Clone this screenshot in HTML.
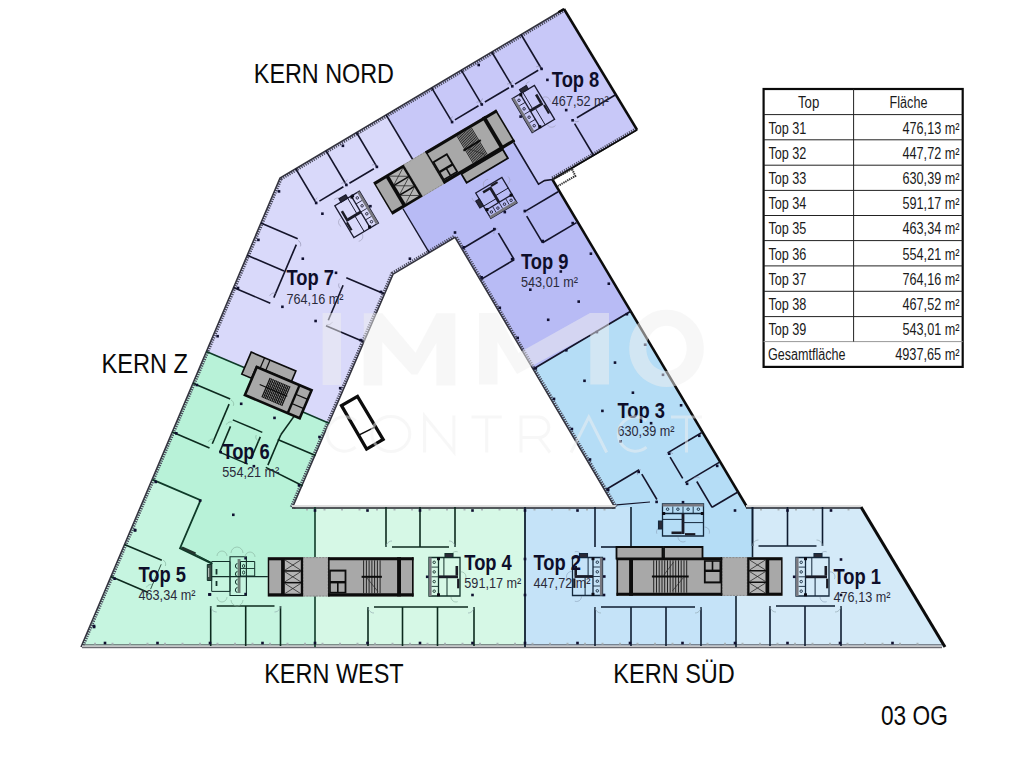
<!DOCTYPE html>
<html><head><meta charset="utf-8"><title>03 OG</title>
<style>
html,body{margin:0;padding:0;background:#fff;}
body{width:1021px;height:765px;overflow:hidden;font-family:"Liberation Sans",sans-serif;}
svg{display:block;font-family:"Liberation Sans",sans-serif;}
</style></head><body>
<svg width="1021" height="765" viewBox="0 0 1021 765">
<rect width="1021" height="765" fill="#ffffff"/>
<polygon points="280.0,178.0 386.1,114.9 416.8,166.4 388.0,183.5 429.2,252.7 393.1,274.2 329.6,423.4 254.6,391.5 261.6,375.0 206.3,351.6" fill="#d9d9fa" stroke="none" stroke-width="0" />
<polygon points="386.1,114.9 564.0,9.0 637.1,129.9 552.4,179.5 538.5,184.2 504.0,126.2 421.9,175.0" fill="#c8c8f8" stroke="none" stroke-width="0" />
<polygon points="393.1,192.1 504.0,126.2 538.5,184.2 552.4,179.5 630.7,311.2 533.3,369.1 455.0,237.4 429.2,252.7" fill="#b8bbf5" stroke="none" stroke-width="0" />
<polygon points="533.3,369.1 630.7,311.2 747.0,507.0 752.5,507.0 752.5,575.0 631.0,575.0 631.0,507.0 615.0,507.5" fill="#b5ddf6" stroke="none" stroke-width="0" />
<polygon points="752.5,507.0 861.0,507.0 945.0,647.0 736.0,647.0 736.0,575.0 752.5,575.0" fill="#d4eaf8" stroke="none" stroke-width="0" />
<polygon points="525.0,507.0 631.0,507.0 631.0,575.0 736.0,575.0 736.0,647.0 525.0,647.0" fill="#c5e3f8" stroke="none" stroke-width="0" />
<polygon points="315.0,507.0 525.0,507.0 525.0,647.0 315.0,647.0" fill="#d6f8e6" stroke="none" stroke-width="0" />
<polygon points="206.3,351.6 261.6,375.0 254.6,391.5 329.6,423.4 292.5,507.5 315.0,507.0 315.0,576.7 290.0,576.7 212.4,576.7 212.4,563.9 180.0,548.2 200.6,500.2 152.5,479.6" fill="#b8f2d8" stroke="none" stroke-width="0" />
<polygon points="81.0,647.0 152.5,479.6 200.6,500.2 180.0,548.2 212.4,563.9 212.4,576.7 290.0,576.7 315.0,576.7 315.0,647.0" fill="#c6f5e0" stroke="none" stroke-width="0" />
<polygon points="393.1,274.2 455.0,237.4 615.0,507.5 292.5,507.5" fill="#ffffff" stroke="none" stroke-width="0" />
<clipPath id="bclip"><path d="M81.0 647.0 L280.0 178.0 L564.0 9.0 L637.1 129.9 L552.4 179.5 L747.0 507.0 L861.0 507.0 L945.0 647.0Z M393.1 274.2 L455.0 237.4 L615.0 507.5 L292.5 507.5Z" clip-rule="evenodd"/></clipPath>
<path d="M81.0 647.0 L280.0 178.0 L564.0 9.0" fill="none" stroke="#4a4a5c" stroke-width="5.8" stroke-dasharray="1.25 1.1" clip-path="url(#bclip)"/>
<path d="M81.0 647.0 L280.0 178.0 L564.0 9.0" fill="none" stroke="#34343f" stroke-width="1.5" stroke-linejoin="miter"/>
<path d="M637.1 129.9 L552.4 179.5" fill="none" stroke="#4a4a5c" stroke-width="5.8" stroke-dasharray="1.25 1.1" clip-path="url(#bclip)"/>
<path d="M637.1 129.9 L552.4 179.5" fill="none" stroke="#34343f" stroke-width="1.5" stroke-linejoin="miter"/>
<path d="M292.5 507.5 L393.1 274.2 L455.0 237.4 L615.0 507.5" fill="none" stroke="#4a4a5c" stroke-width="5.8" stroke-dasharray="1.25 1.1" clip-path="url(#bclip)"/>
<path d="M292.5 507.5 L393.1 274.2 L455.0 237.4 L615.0 507.5" fill="none" stroke="#34343f" stroke-width="1.5" stroke-linejoin="miter"/>
<polyline points="564.0,9.0 637.1,129.9" fill="none" stroke="#0c0c0c" stroke-width="2.6" />
<polyline points="637.1,129.9 552.4,179.5" fill="none" stroke="#0c0c0c" stroke-width="1.6" />
<polyline points="552.4,179.5 747.0,507.0" fill="none" stroke="#0c0c0c" stroke-width="2.5" />
<polyline points="861.0,507.0 945.0,647.0" fill="none" stroke="#0c0c0c" stroke-width="3.0" />
<polyline points="558.4,12.3 564.0,9.0" fill="none" stroke="#0c0c0c" stroke-width="2.2" />
<rect x="292.0" y="505.1" width="323.5" height="2.2" fill="#dcdcdc"/>
<line x1="292.0" y1="508.0" x2="615.5" y2="508.0" stroke="#24242c" stroke-width="1.3"/>
<line x1="306.0" y1="509.7" x2="615.5" y2="509.7" stroke="#aab4b8" stroke-width="1.6" stroke-dasharray="2 15.5"/>
<rect x="746.0" y="505.1" width="115.0" height="2.2" fill="#dcdcdc"/>
<line x1="746.0" y1="508.0" x2="861.0" y2="508.0" stroke="#24242c" stroke-width="1.3"/>
<line x1="760.0" y1="509.7" x2="861.0" y2="509.7" stroke="#aab4b8" stroke-width="1.6" stroke-dasharray="2 15.5"/>
<line x1="82.0" y1="644.9" x2="942.0" y2="644.9" stroke="#33333c" stroke-width="0.9"/>
<rect x="82.0" y="645.4" width="860.0" height="1.9" fill="#c6c6c8"/>
<line x1="82.0" y1="647.7" x2="942.0" y2="647.7" stroke="#4c4c54" stroke-width="1.0"/>
<line x1="94.0" y1="643.6" x2="934.0" y2="643.6" stroke="#aab4b8" stroke-width="1.6" stroke-dasharray="2 15.5"/>
<polyline points="553.0,179.5 572.0,169.0 575.3,176.0 558.0,186.0" fill="none" stroke="#333" stroke-width="2.0" stroke-dasharray="1.4 0.8"/>
<polyline points="386.1,114.9 412.7,159.5" fill="none" stroke="#15152a" stroke-width="1.6" />
<polyline points="402.8,208.5 429.2,252.7" fill="none" stroke="#15152a" stroke-width="1.4" />
<polyline points="513.7,142.5 538.5,184.2 544.5,180.6 552.4,179.5" fill="none" stroke="#15152a" stroke-width="1.6" />
<polyline points="533.3,369.1 630.7,311.2" fill="none" stroke="#15152a" stroke-width="1.8" />
<polyline points="206.3,351.6 244.1,367.6" fill="none" stroke="#0e3a28" stroke-width="1.6" />
<polyline points="302.4,411.8 329.6,423.4" fill="none" stroke="#0e3a28" stroke-width="1.6" />
<polyline points="152.5,479.6 200.6,500.2 180.0,548.2 212.4,563.9" fill="none" stroke="#0e3a28" stroke-width="1.8" />
<polyline points="181.0,547.0 211.5,562.5" fill="none" stroke="#0e3a28" stroke-width="1.0" />
<polygon points="182.5,546.5 196.0,552.5 195.0,555.0 181.5,549.0" fill="#22352e" stroke="none" stroke-width="0" />
<polyline points="315.0,507.0 315.0,557.5" fill="none" stroke="#0e3a28" stroke-width="1.6" />
<polyline points="315.0,596.0 315.0,647.0" fill="none" stroke="#0e3a28" stroke-width="1.6" />
<polyline points="525.0,507.0 525.0,647.0" fill="none" stroke="#102030" stroke-width="1.8" />
<polyline points="631.0,507.0 631.0,547.0" fill="none" stroke="#102030" stroke-width="1.6" />
<polyline points="752.5,507.0 752.5,557.5" fill="none" stroke="#102030" stroke-width="1.6" />
<polyline points="736.0,596.0 736.0,647.0" fill="none" stroke="#102030" stroke-width="1.6" />
<polyline points="295.7,168.6 316.2,203.0" fill="none" stroke="#14142a" stroke-width="1.6" />
<polyline points="326.0,150.6 346.4,185.0" fill="none" stroke="#14142a" stroke-width="1.6" />
<polyline points="356.5,132.5 376.9,166.9" fill="none" stroke="#14142a" stroke-width="1.6" />
<polyline points="319.4,201.1 343.4,186.8" fill="none" stroke="#14142a" stroke-width="1.6" />
<polyline points="349.4,183.2 373.9,168.7" fill="none" stroke="#14142a" stroke-width="1.6" />
<polyline points="315.9,203.2 315.5,202.2 315.4,201.2 315.5,200.1 315.9,199.2 316.5,198.3 317.3,197.7" fill="none" stroke="#8a8aa8" stroke-width="0.6" />
<polyline points="341.4,183.4 342.3,183.0 343.4,182.8 344.4,182.9 345.4,183.3 346.2,183.9 346.9,184.8" fill="none" stroke="#8a8aa8" stroke-width="0.6" />
<polyline points="346.0,185.3 345.6,184.3 345.4,183.3 345.6,182.2 345.9,181.3 346.6,180.4 347.4,179.8" fill="none" stroke="#8a8aa8" stroke-width="0.6" />
<polyline points="371.9,165.2 372.8,164.8 373.9,164.7 374.9,164.8 375.9,165.2 376.7,165.8 377.4,166.6" fill="none" stroke="#8a8aa8" stroke-width="0.6" />
<polyline points="431.7,87.8 451.9,121.7" fill="none" stroke="#14142a" stroke-width="1.6" />
<polyline points="461.3,70.1 481.5,104.1" fill="none" stroke="#14142a" stroke-width="1.6" />
<polyline points="491.8,52.0 512.0,85.9" fill="none" stroke="#14142a" stroke-width="1.6" />
<polyline points="521.1,34.5 541.3,68.5" fill="none" stroke="#14142a" stroke-width="1.6" />
<polyline points="454.9,119.9 478.5,105.8" fill="none" stroke="#14142a" stroke-width="1.6" />
<polyline points="484.9,102.0 509.0,87.7" fill="none" stroke="#14142a" stroke-width="1.6" />
<polyline points="515.0,84.1 538.2,70.3" fill="none" stroke="#14142a" stroke-width="1.6" />
<polyline points="451.4,122.0 451.0,121.0 450.9,120.0 451.0,118.9 451.4,118.0 452.0,117.1 452.8,116.5" fill="none" stroke="#8a8aa8" stroke-width="0.6" />
<polyline points="481.5,104.1 481.1,103.1 480.9,102.1 481.1,101.0 481.5,100.1 482.1,99.2 482.9,98.6" fill="none" stroke="#8a8aa8" stroke-width="0.6" />
<polyline points="511.6,86.2 511.2,85.2 511.0,84.2 511.1,83.1 511.5,82.2 512.2,81.3 513.0,80.7" fill="none" stroke="#8a8aa8" stroke-width="0.6" />
<polyline points="476.5,102.4 477.4,102.0 478.4,101.8 479.5,102.0 480.5,102.4 481.3,103.0 481.9,103.8" fill="none" stroke="#8a8aa8" stroke-width="0.6" />
<polyline points="507.0,84.3 507.9,83.8 509.0,83.7 510.0,83.8 511.0,84.2 511.8,84.8 512.4,85.7" fill="none" stroke="#8a8aa8" stroke-width="0.6" />
<polyline points="536.2,66.9 537.1,66.5 538.2,66.3 539.2,66.4 540.2,66.8 541.0,67.4 541.7,68.3" fill="none" stroke="#8a8aa8" stroke-width="0.6" />
<polyline points="574.6,123.7 593.6,155.5" fill="none" stroke="#14142a" stroke-width="1.6" />
<polyline points="576.9,117.7 615.6,94.7" fill="none" stroke="#14142a" stroke-width="1.6" />
<polyline points="578.9,121.1 578.0,121.5 576.9,121.7 575.9,121.6 574.9,121.2 574.1,120.6 573.5,119.7" fill="none" stroke="#8a8aa8" stroke-width="0.6" />
<polyline points="462.7,248.5 495.8,228.8" fill="none" stroke="#14142a" stroke-width="1.6" />
<polyline points="498.4,233.1 514.2,259.7" fill="none" stroke="#14142a" stroke-width="1.6" />
<polyline points="481.1,279.4 514.2,259.7" fill="none" stroke="#14142a" stroke-width="1.6" />
<polyline points="524.2,211.9 558.1,191.7" fill="none" stroke="#14142a" stroke-width="1.6" />
<polyline points="526.7,216.2 542.6,242.8" fill="none" stroke="#14142a" stroke-width="1.6" />
<polyline points="542.6,242.8 576.5,222.6" fill="none" stroke="#14142a" stroke-width="1.6" />
<polyline points="493.9,233.9 493.9,232.7 494.1,231.6 494.6,230.5 495.4,229.7 496.4,229.0 497.5,228.7" fill="none" stroke="#8a8aa8" stroke-width="0.6" />
<polyline points="523.2,213.4 524.1,212.6 525.1,212.0 526.3,211.7 527.4,211.8 528.6,212.1 529.6,212.7" fill="none" stroke="#8a8aa8" stroke-width="0.6" />
<polyline points="606.1,489.5 639.2,469.8" fill="none" stroke="#14142a" stroke-width="1.6" />
<polyline points="641.8,474.1 656.9,499.5" fill="none" stroke="#14142a" stroke-width="1.6" />
<polyline points="667.6,452.9 701.5,432.7" fill="none" stroke="#14142a" stroke-width="1.6" />
<polyline points="670.1,457.2 682.7,478.3" fill="none" stroke="#14142a" stroke-width="1.6" />
<polyline points="685.2,482.6 719.2,462.4" fill="none" stroke="#14142a" stroke-width="1.6" />
<polyline points="637.4,474.9 637.3,473.8 637.5,472.6 638.1,471.6 638.8,470.7 639.8,470.1 640.9,469.7" fill="none" stroke="#8a8aa8" stroke-width="0.6" />
<polyline points="666.6,454.4 667.5,453.6 668.5,453.0 669.7,452.8 670.9,452.8 672.0,453.1 673.0,453.8" fill="none" stroke="#8a8aa8" stroke-width="0.6" />
<polyline points="696.8,481.5 712.1,507.3" fill="none" stroke="#14142a" stroke-width="1.6" />
<polyline points="712.1,507.3 737.9,492.0" fill="none" stroke="#14142a" stroke-width="1.6" />
<polyline points="693.3,478.7 694.2,477.9 695.2,477.3 696.3,477.0 697.5,477.1 698.6,477.4 699.6,478.0" fill="none" stroke="#8a8aa8" stroke-width="0.6" />
<polyline points="616.5,504.8 650.0,502.0" fill="none" stroke="#14142a" stroke-width="1.2" />
<polyline points="260.9,223.1 297.7,238.7" fill="none" stroke="#14142a" stroke-width="1.6" />
<polyline points="247.2,255.3 284.0,270.9" fill="none" stroke="#14142a" stroke-width="1.6" />
<polyline points="233.5,287.5 270.3,303.2" fill="none" stroke="#14142a" stroke-width="1.6" />
<polyline points="296.3,244.6 273.8,297.6" fill="none" stroke="#14142a" stroke-width="1.6" />
<polyline points="300.4,246.4 300.7,245.3 300.7,244.1 300.4,243.0 299.9,241.9 299.0,241.1 298.0,240.5" fill="none" stroke="#8a8aa8" stroke-width="0.6" />
<polyline points="275.6,293.4 274.4,293.1 273.2,293.1 272.1,293.4 271.1,294.0 270.3,294.8 269.7,295.8" fill="none" stroke="#8a8aa8" stroke-width="0.6" />
<polyline points="346.3,277.8 384.0,293.8" fill="none" stroke="#14142a" stroke-width="1.6" />
<polyline points="343.1,285.2 328.3,320.2" fill="none" stroke="#14142a" stroke-width="1.6" />
<polyline points="326.0,325.7 363.7,341.7" fill="none" stroke="#14142a" stroke-width="1.6" />
<polyline points="339.0,283.4 338.7,284.6 338.7,285.7 339.0,286.9 339.6,287.9 340.4,288.7 341.4,289.3" fill="none" stroke="#8a8aa8" stroke-width="0.6" />
<polyline points="326.5,324.3 327.7,324.6 328.9,324.6 330.0,324.3 331.0,323.7 331.8,322.9 332.4,321.9" fill="none" stroke="#8a8aa8" stroke-width="0.6" />
<polyline points="192.9,383.3 230.2,399.1" fill="none" stroke="#0c2a1e" stroke-width="1.6" />
<polyline points="172.2,432.1 209.5,447.9" fill="none" stroke="#0c2a1e" stroke-width="1.6" />
<polyline points="229.1,404.1 212.3,443.7" fill="none" stroke="#0c2a1e" stroke-width="1.6" />
<polyline points="233.3,405.8 233.6,404.7 233.6,403.5 233.3,402.4 232.7,401.4 231.9,400.5 230.9,399.9" fill="none" stroke="#7aa892" stroke-width="0.6" />
<polyline points="214.1,439.5 213.0,439.2 211.8,439.2 210.7,439.5 209.6,440.1 208.8,440.9 208.2,441.9" fill="none" stroke="#7aa892" stroke-width="0.6" />
<polyline points="232.8,419.8 262.3,432.3" fill="none" stroke="#0c2a1e" stroke-width="1.4" />
<polyline points="230.5,426.4 219.6,452.2" fill="none" stroke="#0c2a1e" stroke-width="1.6" />
<polyline points="219.6,452.2 247.7,464.1" fill="none" stroke="#0c2a1e" stroke-width="1.4" />
<polyline points="260.3,436.9 250.9,459.0" fill="none" stroke="#0c2a1e" stroke-width="1.6" />
<polyline points="232.3,422.3 231.2,421.9 230.0,421.9 228.9,422.2 227.8,422.8 227.0,423.6 226.4,424.6" fill="none" stroke="#7aa892" stroke-width="0.6" />
<polyline points="256.2,435.1 255.9,436.2 255.8,437.4 256.1,438.5 256.7,439.6 257.5,440.4 258.6,441.0" fill="none" stroke="#7aa892" stroke-width="0.6" />
<polyline points="294.0,416.4 280.8,434.7" fill="none" stroke="#0c2a1e" stroke-width="1.6" />
<polyline points="280.8,434.7 267.9,465.1" fill="none" stroke="#0c2a1e" stroke-width="1.6" />
<polyline points="277.7,439.4 315.5,455.4" fill="none" stroke="#0c2a1e" stroke-width="1.6" />
<polyline points="265.8,467.4 302.6,485.8" fill="none" stroke="#0c2a1e" stroke-width="1.6" />
<polyline points="124.5,544.4 161.8,560.2" fill="none" stroke="#0c2a1e" stroke-width="1.6" />
<polyline points="110.9,576.6 148.2,592.4" fill="none" stroke="#0c2a1e" stroke-width="1.6" />
<polyline points="161.2,564.3 150.6,589.1" fill="none" stroke="#0c2a1e" stroke-width="0.8" />
<polyline points="165.3,566.0 165.6,564.9 165.6,563.7 165.4,562.6 164.8,561.5 163.9,560.7 162.9,560.1" fill="none" stroke="#7aa892" stroke-width="0.6" />
<polyline points="152.4,585.0 151.3,584.6 150.1,584.6 148.9,584.9 147.9,585.5 147.1,586.3 146.5,587.3" fill="none" stroke="#7aa892" stroke-width="0.6" />
<polyline points="210.7,646.0 210.7,606.0" fill="none" stroke="#0c2a1e" stroke-width="1.6" />
<polyline points="245.7,646.0 245.7,606.0" fill="none" stroke="#0c2a1e" stroke-width="1.6" />
<polyline points="280.5,646.0 280.5,606.0" fill="none" stroke="#0c2a1e" stroke-width="1.6" />
<polyline points="216.7,606.0 274.5,606.0" fill="none" stroke="#0c2a1e" stroke-width="1.6" />
<polyline points="210.7,606.0 210.9,607.6 211.5,609.0 212.5,610.2 213.7,611.2 215.1,611.8 216.7,612.0" fill="none" stroke="#8aa0a8" stroke-width="0.6" />
<polyline points="280.5,606.0 280.3,607.6 279.7,609.0 278.7,610.2 277.5,611.2 276.1,611.8 274.5,612.0" fill="none" stroke="#8aa0a8" stroke-width="0.6" />
<polyline points="386.0,507.0 386.0,547.0" fill="none" stroke="#0c2a1e" stroke-width="1.6" />
<polyline points="420.0,507.0 420.0,547.0" fill="none" stroke="#0c2a1e" stroke-width="1.6" />
<polyline points="455.0,507.0 455.0,547.0" fill="none" stroke="#0c2a1e" stroke-width="1.6" />
<polyline points="392.0,547.0 449.0,547.0" fill="none" stroke="#0c2a1e" stroke-width="1.6" />
<polyline points="386.0,547.0 386.2,545.4 386.8,544.0 387.8,542.8 389.0,541.8 390.4,541.2 392.0,541.0" fill="none" stroke="#8aa0a8" stroke-width="0.6" />
<polyline points="455.0,547.0 454.8,545.4 454.2,544.0 453.2,542.8 452.0,541.8 450.6,541.2 449.0,541.0" fill="none" stroke="#8aa0a8" stroke-width="0.6" />
<polyline points="368.0,646.0 368.0,607.0" fill="none" stroke="#0c2a1e" stroke-width="1.6" />
<polyline points="402.5,646.0 402.5,607.0" fill="none" stroke="#0c2a1e" stroke-width="1.6" />
<polyline points="437.5,646.0 437.5,607.0" fill="none" stroke="#0c2a1e" stroke-width="1.6" />
<polyline points="474.0,646.0 474.0,607.0" fill="none" stroke="#0c2a1e" stroke-width="1.6" />
<polyline points="374.0,607.0 468.0,607.0" fill="none" stroke="#0c2a1e" stroke-width="1.6" />
<polyline points="368.0,607.0 368.2,608.6 368.8,610.0 369.8,611.2 371.0,612.2 372.4,612.8 374.0,613.0" fill="none" stroke="#8aa0a8" stroke-width="0.6" />
<polyline points="474.0,607.0 473.8,608.6 473.2,610.0 472.2,611.2 471.0,612.2 469.6,612.8 468.0,613.0" fill="none" stroke="#8aa0a8" stroke-width="0.6" />
<polyline points="595.0,507.0 595.0,547.0" fill="none" stroke="#0e1c30" stroke-width="1.6" />
<polyline points="601.0,547.0 616.0,547.0" fill="none" stroke="#0e1c30" stroke-width="1.6" />
<polyline points="595.0,646.0 595.0,607.0" fill="none" stroke="#0e1c30" stroke-width="1.6" />
<polyline points="631.0,646.0 631.0,607.0" fill="none" stroke="#0e1c30" stroke-width="1.6" />
<polyline points="666.0,646.0 666.0,607.0" fill="none" stroke="#0e1c30" stroke-width="1.6" />
<polyline points="701.0,646.0 701.0,607.0" fill="none" stroke="#0e1c30" stroke-width="1.6" />
<polyline points="601.0,607.0 695.0,607.0" fill="none" stroke="#0e1c30" stroke-width="1.6" />
<polyline points="595.0,607.0 595.2,608.6 595.8,610.0 596.8,611.2 598.0,612.2 599.4,612.8 601.0,613.0" fill="none" stroke="#8aa0a8" stroke-width="0.6" />
<polyline points="701.0,607.0 700.8,608.6 700.2,610.0 699.2,611.2 698.0,612.2 696.6,612.8 695.0,613.0" fill="none" stroke="#8aa0a8" stroke-width="0.6" />
<polyline points="752.5,507.0 752.5,546.0" fill="none" stroke="#0e1c30" stroke-width="1.6" />
<polyline points="787.5,507.0 787.5,546.0" fill="none" stroke="#0e1c30" stroke-width="1.6" />
<polyline points="822.5,507.0 822.5,546.0" fill="none" stroke="#0e1c30" stroke-width="1.6" />
<polyline points="758.5,546.0 816.5,546.0" fill="none" stroke="#0e1c30" stroke-width="1.6" />
<polyline points="752.5,546.0 752.7,544.4 753.3,543.0 754.3,541.8 755.5,540.8 756.9,540.2 758.5,540.0" fill="none" stroke="#8aa0a8" stroke-width="0.6" />
<polyline points="822.5,546.0 822.3,544.4 821.7,543.0 820.7,541.8 819.5,540.8 818.1,540.2 816.5,540.0" fill="none" stroke="#8aa0a8" stroke-width="0.6" />
<polyline points="770.0,646.0 770.0,606.0" fill="none" stroke="#0e1c30" stroke-width="1.6" />
<polyline points="805.0,646.0 805.0,606.0" fill="none" stroke="#0e1c30" stroke-width="1.6" />
<polyline points="841.0,646.0 841.0,606.0" fill="none" stroke="#0e1c30" stroke-width="1.6" />
<polyline points="776.0,606.0 835.0,606.0" fill="none" stroke="#0e1c30" stroke-width="1.6" />
<polyline points="770.0,606.0 770.2,607.6 770.8,609.0 771.8,610.2 773.0,611.2 774.4,611.8 776.0,612.0" fill="none" stroke="#8aa0a8" stroke-width="0.6" />
<polyline points="841.0,606.0 840.8,607.6 840.2,609.0 839.2,610.2 838.0,611.2 836.6,611.8 835.0,612.0" fill="none" stroke="#8aa0a8" stroke-width="0.6" />
<rect x="462.4" y="246.0" width="2.6" height="2.6" fill="#101030"/>
<rect x="493.0" y="227.8" width="2.6" height="2.6" fill="#101030"/>
<rect x="523.5" y="209.7" width="2.6" height="2.6" fill="#101030"/>
<rect x="480.3" y="276.0" width="2.6" height="2.6" fill="#101030"/>
<rect x="510.8" y="257.9" width="2.6" height="2.6" fill="#101030"/>
<rect x="541.4" y="239.7" width="2.6" height="2.6" fill="#101030"/>
<rect x="571.4" y="221.8" width="2.6" height="2.6" fill="#101030"/>
<rect x="498.5" y="306.5" width="2.6" height="2.6" fill="#101030"/>
<rect x="529.0" y="288.4" width="2.6" height="2.6" fill="#101030"/>
<rect x="559.5" y="270.2" width="2.6" height="2.6" fill="#101030"/>
<rect x="589.6" y="252.4" width="2.6" height="2.6" fill="#101030"/>
<rect x="516.4" y="336.6" width="2.6" height="2.6" fill="#101030"/>
<rect x="546.9" y="318.5" width="2.6" height="2.6" fill="#101030"/>
<rect x="577.4" y="300.3" width="2.6" height="2.6" fill="#101030"/>
<rect x="607.5" y="282.4" width="2.6" height="2.6" fill="#101030"/>
<rect x="534.5" y="367.1" width="2.6" height="2.6" fill="#101030"/>
<rect x="565.0" y="349.0" width="2.6" height="2.6" fill="#101030"/>
<rect x="595.6" y="330.8" width="2.6" height="2.6" fill="#101030"/>
<rect x="625.6" y="312.9" width="2.6" height="2.6" fill="#101030"/>
<rect x="552.7" y="397.6" width="2.6" height="2.6" fill="#101030"/>
<rect x="583.2" y="379.5" width="2.6" height="2.6" fill="#101030"/>
<rect x="613.7" y="361.3" width="2.6" height="2.6" fill="#101030"/>
<rect x="643.8" y="343.4" width="2.6" height="2.6" fill="#101030"/>
<rect x="570.6" y="427.7" width="2.6" height="2.6" fill="#101030"/>
<rect x="601.1" y="409.6" width="2.6" height="2.6" fill="#101030"/>
<rect x="631.6" y="391.4" width="2.6" height="2.6" fill="#101030"/>
<rect x="661.7" y="373.5" width="2.6" height="2.6" fill="#101030"/>
<rect x="588.7" y="458.2" width="2.6" height="2.6" fill="#101030"/>
<rect x="619.2" y="440.1" width="2.6" height="2.6" fill="#101030"/>
<rect x="649.8" y="421.9" width="2.6" height="2.6" fill="#101030"/>
<rect x="679.8" y="404.0" width="2.6" height="2.6" fill="#101030"/>
<rect x="606.9" y="488.7" width="2.6" height="2.6" fill="#101030"/>
<rect x="637.4" y="470.6" width="2.6" height="2.6" fill="#101030"/>
<rect x="667.9" y="452.4" width="2.6" height="2.6" fill="#101030"/>
<rect x="698.0" y="434.5" width="2.6" height="2.6" fill="#101030"/>
<rect x="655.3" y="500.6" width="2.6" height="2.6" fill="#101030"/>
<rect x="685.8" y="482.5" width="2.6" height="2.6" fill="#101030"/>
<rect x="715.9" y="464.6" width="2.6" height="2.6" fill="#101030"/>
<rect x="341.6" y="144.5" width="2.6" height="2.6" fill="#101030"/>
<rect x="477.4" y="63.7" width="2.6" height="2.6" fill="#101030"/>
<rect x="314.9" y="201.7" width="2.6" height="2.6" fill="#101030"/>
<rect x="345.1" y="183.7" width="2.6" height="2.6" fill="#101030"/>
<rect x="375.6" y="165.6" width="2.6" height="2.6" fill="#101030"/>
<rect x="450.8" y="120.8" width="2.6" height="2.6" fill="#101030"/>
<rect x="480.5" y="103.2" width="2.6" height="2.6" fill="#101030"/>
<rect x="511.0" y="85.0" width="2.6" height="2.6" fill="#101030"/>
<rect x="540.3" y="67.6" width="2.6" height="2.6" fill="#101030"/>
<rect x="321.1" y="212.4" width="2.6" height="2.6" fill="#101030"/>
<rect x="351.5" y="194.4" width="2.6" height="2.6" fill="#101030"/>
<rect x="546.1" y="78.6" width="2.6" height="2.6" fill="#101030"/>
<rect x="571.3" y="119.0" width="2.6" height="2.6" fill="#101030"/>
<rect x="564.9" y="108.8" width="2.6" height="2.6" fill="#101030"/>
<rect x="453.7" y="231.2" width="2.6" height="2.6" fill="#101030"/>
<rect x="408.6" y="257.4" width="2.6" height="2.6" fill="#101030"/>
<rect x="277.7" y="190.1" width="2.6" height="2.6" fill="#101030"/>
<rect x="257.1" y="238.6" width="2.6" height="2.6" fill="#101030"/>
<rect x="236.7" y="286.7" width="2.6" height="2.6" fill="#101030"/>
<rect x="216.3" y="334.9" width="2.6" height="2.6" fill="#101030"/>
<rect x="195.6" y="383.7" width="2.6" height="2.6" fill="#101030"/>
<rect x="175.0" y="432.0" width="2.6" height="2.6" fill="#101030"/>
<rect x="154.4" y="480.6" width="2.6" height="2.6" fill="#101030"/>
<rect x="133.8" y="529.1" width="2.6" height="2.6" fill="#101030"/>
<rect x="113.3" y="577.4" width="2.6" height="2.6" fill="#101030"/>
<rect x="92.8" y="625.7" width="2.6" height="2.6" fill="#101030"/>
<rect x="301.5" y="257.4" width="2.6" height="2.6" fill="#101030"/>
<rect x="281.1" y="305.5" width="2.6" height="2.6" fill="#101030"/>
<rect x="239.9" y="402.5" width="2.6" height="2.6" fill="#101030"/>
<rect x="219.4" y="450.8" width="2.6" height="2.6" fill="#101030"/>
<rect x="198.8" y="499.4" width="2.6" height="2.6" fill="#101030"/>
<rect x="334.7" y="271.5" width="2.6" height="2.6" fill="#101030"/>
<rect x="314.3" y="319.7" width="2.6" height="2.6" fill="#101030"/>
<rect x="273.2" y="416.6" width="2.6" height="2.6" fill="#101030"/>
<rect x="252.6" y="464.9" width="2.6" height="2.6" fill="#101030"/>
<rect x="232.0" y="513.5" width="2.6" height="2.6" fill="#101030"/>
<rect x="379.7" y="290.6" width="2.6" height="2.6" fill="#101030"/>
<rect x="359.3" y="338.8" width="2.6" height="2.6" fill="#101030"/>
<rect x="338.9" y="386.9" width="2.6" height="2.6" fill="#101030"/>
<rect x="318.2" y="435.7" width="2.6" height="2.6" fill="#101030"/>
<rect x="297.7" y="484.0" width="2.6" height="2.6" fill="#101030"/>
<rect x="103.7" y="641.7" width="2.6" height="2.6" fill="#101030"/>
<rect x="156.2" y="641.7" width="2.6" height="2.6" fill="#101030"/>
<rect x="208.7" y="641.7" width="2.6" height="2.6" fill="#101030"/>
<rect x="261.2" y="641.7" width="2.6" height="2.6" fill="#101030"/>
<rect x="313.7" y="641.7" width="2.6" height="2.6" fill="#101030"/>
<rect x="366.2" y="641.7" width="2.6" height="2.6" fill="#101030"/>
<rect x="418.7" y="641.7" width="2.6" height="2.6" fill="#101030"/>
<rect x="471.2" y="641.7" width="2.6" height="2.6" fill="#101030"/>
<rect x="523.7" y="641.7" width="2.6" height="2.6" fill="#101030"/>
<rect x="576.2" y="641.7" width="2.6" height="2.6" fill="#101030"/>
<rect x="628.7" y="641.7" width="2.6" height="2.6" fill="#101030"/>
<rect x="681.2" y="641.7" width="2.6" height="2.6" fill="#101030"/>
<rect x="733.7" y="641.7" width="2.6" height="2.6" fill="#101030"/>
<rect x="786.2" y="641.7" width="2.6" height="2.6" fill="#101030"/>
<rect x="838.7" y="641.7" width="2.6" height="2.6" fill="#101030"/>
<rect x="891.2" y="641.7" width="2.6" height="2.6" fill="#101030"/>
<rect x="313.7" y="509.2" width="2.6" height="2.6" fill="#101030"/>
<rect x="366.2" y="509.2" width="2.6" height="2.6" fill="#101030"/>
<rect x="418.7" y="509.2" width="2.6" height="2.6" fill="#101030"/>
<rect x="471.2" y="509.2" width="2.6" height="2.6" fill="#101030"/>
<rect x="523.7" y="509.2" width="2.6" height="2.6" fill="#101030"/>
<rect x="576.2" y="509.2" width="2.6" height="2.6" fill="#101030"/>
<rect x="733.7" y="509.2" width="2.6" height="2.6" fill="#101030"/>
<rect x="786.2" y="509.2" width="2.6" height="2.6" fill="#101030"/>
<rect x="829.7" y="509.2" width="2.6" height="2.6" fill="#101030"/>
<rect x="471.2" y="593.7" width="2.6" height="2.6" fill="#101030"/>
<rect x="523.7" y="557.7" width="2.6" height="2.6" fill="#101030"/>
<rect x="523.7" y="593.7" width="2.6" height="2.6" fill="#101030"/>
<rect x="208.7" y="593.2" width="2.6" height="2.6" fill="#101030"/>
<rect x="839.7" y="558.2" width="2.6" height="2.6" fill="#101030"/>
<rect x="839.7" y="593.7" width="2.6" height="2.6" fill="#101030"/>
<rect x="602.7" y="557.7" width="2.6" height="2.6" fill="#101030"/>
<rect x="602.7" y="593.7" width="2.6" height="2.6" fill="#101030"/>
<rect x="133.7" y="528.7" width="2.6" height="2.6" fill="#101030"/>
<rect x="92.7" y="624.7" width="2.6" height="2.6" fill="#101030"/>
<polyline points="479.4,201.3 478.0,201.9 476.4,202.0 474.8,201.5 473.5,200.7 472.5,199.4 472.0,197.9" fill="none" stroke="#9a9ab4" stroke-width="0.6" />
<polyline points="508.0,176.5 509.0,177.7 509.7,179.2 509.8,180.7 509.4,182.3 508.6,183.6 507.4,184.7" fill="none" stroke="#9a9ab4" stroke-width="0.6" />
<polyline points="484.0,186.9 483.4,185.3 483.4,183.6 483.9,181.9 485.0,180.6 486.5,179.7 488.2,179.4" fill="none" stroke="#9a9ab4" stroke-width="0.6" />
<polygon points="475.7,193.0 501.9,177.4 517.0,202.8 490.8,218.4" fill="none" stroke="#1a1a2e" stroke-width="1.3" />
<polygon points="489.4,216.2 515.7,200.6 517.0,202.8 490.8,218.4" fill="#77777f" stroke="none" stroke-width="0" />
<polyline points="485.9,210.2 512.1,194.6" fill="none" stroke="#1a1a2e" stroke-width="1.3" />
<polyline points="492.5,206.3 496.0,212.3" fill="none" stroke="#1a1a2e" stroke-width="0.9" />
<polyline points="499.0,202.4 502.6,208.4" fill="none" stroke="#1a1a2e" stroke-width="0.9" />
<polyline points="505.6,198.5 509.1,204.5" fill="none" stroke="#1a1a2e" stroke-width="0.9" />
<circle cx="491.4" cy="212.0" r="1.25" fill="none" stroke="#1a1a2e" stroke-width="0.9"/>
<circle cx="497.9" cy="208.1" r="1.25" fill="none" stroke="#1a1a2e" stroke-width="0.9"/>
<circle cx="504.5" cy="204.2" r="1.25" fill="none" stroke="#1a1a2e" stroke-width="0.9"/>
<circle cx="511.1" cy="200.3" r="1.25" fill="none" stroke="#1a1a2e" stroke-width="0.9"/>
<polyline points="489.8,187.0 499.0,202.4" fill="none" stroke="#1a1a26" stroke-width="2.8" />
<polyline points="495.1,195.9 508.2,188.1" fill="none" stroke="#1a1a2e" stroke-width="1.0" />
<polyline points="483.5,206.2 496.6,198.4" fill="none" stroke="#1a1a2e" stroke-width="1.0" />
<polyline points="483.1,192.4 489.6,188.5" fill="none" stroke="#1a1a24" stroke-width="2.6" />
<polyline points="491.0,186.0 497.6,182.1" fill="none" stroke="#1a1a24" stroke-width="2.2" />
<polygon points="475.8,201.1 479.3,199.1 483.4,205.9 479.9,208.0" fill="#2a2a36" stroke="#1a1a2e" stroke-width="1.1" />
<rect x="485.5" y="208.1" width="3.0" height="3.0" fill="#0a0a14"/>
<rect x="509.6" y="193.7" width="3.0" height="3.0" fill="#0a0a14"/>
<rect x="503.5" y="210.8" width="2.6" height="2.6" fill="#101030"/>
<polyline points="342.2,200.3 341.1,199.1 339.8,198.3 338.2,197.9 336.7,198.1 335.2,198.7 334.0,199.7" fill="none" stroke="#9a9ab4" stroke-width="0.6" />
<polyline points="358.7,241.3 360.2,240.8 361.5,239.8 362.4,238.5 362.8,236.9 362.7,235.3 362.1,233.9" fill="none" stroke="#9a9ab4" stroke-width="0.6" />
<polyline points="341.0,217.9 339.7,219.1 338.8,220.6 338.5,222.3 338.9,224.0 339.8,225.5 341.1,226.6" fill="none" stroke="#9a9ab4" stroke-width="0.6" />
<polygon points="334.9,205.8 353.9,237.6 378.4,223.0 359.4,191.2" fill="none" stroke="#1a1a2e" stroke-width="1.3" />
<polygon points="357.2,192.6 376.1,224.4 378.4,223.0 359.4,191.2" fill="#77777f" stroke="none" stroke-width="0" />
<polyline points="351.3,196.1 370.2,227.9" fill="none" stroke="#1a1a2e" stroke-width="1.3" />
<polyline points="356.0,204.0 361.9,200.5" fill="none" stroke="#1a1a2e" stroke-width="0.9" />
<polyline points="360.7,212.0 366.7,208.5" fill="none" stroke="#1a1a2e" stroke-width="0.9" />
<polyline points="365.5,219.9 371.4,216.4" fill="none" stroke="#1a1a2e" stroke-width="0.9" />
<circle cx="357.3" cy="197.9" r="1.25" fill="none" stroke="#1a1a2e" stroke-width="0.9"/>
<circle cx="362.1" cy="205.8" r="1.25" fill="none" stroke="#1a1a2e" stroke-width="0.9"/>
<circle cx="366.8" cy="213.8" r="1.25" fill="none" stroke="#1a1a2e" stroke-width="0.9"/>
<circle cx="371.5" cy="221.7" r="1.25" fill="none" stroke="#1a1a2e" stroke-width="0.9"/>
<polyline points="346.1,220.7 360.7,212.0" fill="none" stroke="#1a1a26" stroke-width="2.8" />
<polyline points="354.7,215.6 364.1,231.5" fill="none" stroke="#1a1a2e" stroke-width="1.0" />
<polyline points="347.7,198.2 357.1,214.1" fill="none" stroke="#1a1a2e" stroke-width="1.0" />
<polyline points="341.9,211.2 346.6,219.1" fill="none" stroke="#1a1a24" stroke-width="2.6" />
<polyline points="346.9,222.4 351.6,230.3" fill="none" stroke="#1a1a24" stroke-width="2.2" />
<polygon points="338.9,198.8 341.0,202.2 347.8,198.1 345.8,194.7" fill="#2a2a36" stroke="#1a1a2e" stroke-width="1.1" />
<rect x="350.4" y="195.6" width="3.0" height="3.0" fill="#0a0a14"/>
<rect x="368.1" y="225.4" width="3.0" height="3.0" fill="#0a0a14"/>
<rect x="369.1" y="204.9" width="2.6" height="2.6" fill="#101030"/>
<polyline points="526.1,89.1 525.6,87.7 525.5,86.1 525.9,84.5 526.8,83.2 528.0,82.2 529.5,81.7" fill="none" stroke="#9a9ab4" stroke-width="0.6" />
<polyline points="555.5,125.4 554.3,126.5 552.9,127.1 551.3,127.2 549.7,126.9 548.4,126.0 547.4,124.8" fill="none" stroke="#9a9ab4" stroke-width="0.6" />
<polyline points="542.8,97.6 544.4,96.9 546.2,96.9 547.8,97.5 549.1,98.6 550.0,100.1 550.4,101.8" fill="none" stroke="#9a9ab4" stroke-width="0.6" />
<polygon points="534.4,85.4 554.6,119.3 532.2,132.6 512.1,98.7" fill="none" stroke="#1a1a2e" stroke-width="1.3" />
<polygon points="514.3,97.4 534.5,131.3 532.2,132.6 512.1,98.7" fill="#77777f" stroke="none" stroke-width="0" />
<polyline points="520.2,93.8 540.4,127.8" fill="none" stroke="#1a1a2e" stroke-width="1.3" />
<polyline points="525.3,102.3 519.3,105.8" fill="none" stroke="#1a1a2e" stroke-width="0.9" />
<polyline points="530.3,110.8 524.4,114.3" fill="none" stroke="#1a1a2e" stroke-width="0.9" />
<polyline points="535.4,119.3 529.4,122.8" fill="none" stroke="#1a1a2e" stroke-width="0.9" />
<circle cx="519.0" cy="100.3" r="1.25" fill="none" stroke="#1a1a2e" stroke-width="0.9"/>
<circle cx="524.1" cy="108.8" r="1.25" fill="none" stroke="#1a1a2e" stroke-width="0.9"/>
<circle cx="529.1" cy="117.2" r="1.25" fill="none" stroke="#1a1a2e" stroke-width="0.9"/>
<circle cx="534.2" cy="125.7" r="1.25" fill="none" stroke="#1a1a2e" stroke-width="0.9"/>
<polyline points="542.8,103.4 530.3,110.8" fill="none" stroke="#1a1a26" stroke-width="2.8" />
<polyline points="535.1,107.9 545.2,124.9" fill="none" stroke="#1a1a2e" stroke-width="1.0" />
<polyline points="522.8,92.3 532.9,109.3" fill="none" stroke="#1a1a2e" stroke-width="1.0" />
<polyline points="536.1,94.5 541.1,103.0" fill="none" stroke="#1a1a24" stroke-width="2.6" />
<polyline points="544.0,105.0 549.0,113.5" fill="none" stroke="#1a1a24" stroke-width="2.2" />
<polygon points="526.3,85.5 528.4,89.0 521.5,93.1 519.5,89.6" fill="#2a2a36" stroke="#1a1a2e" stroke-width="1.1" />
<rect x="519.3" y="93.4" width="3.0" height="3.0" fill="#0a0a14"/>
<rect x="538.3" y="125.2" width="3.0" height="3.0" fill="#0a0a14"/>
<rect x="519.3" y="115.3" width="2.6" height="2.6" fill="#101030"/>
<polyline points="451.0,556.5 451.3,554.9 452.0,553.5 453.1,552.4 454.6,551.7 456.1,551.5 457.7,551.8" fill="none" stroke="#8ab0a0" stroke-width="0.6" />
<polyline points="457.7,601.7 456.1,602.0 454.6,601.8 453.1,601.1 452.0,600.0 451.3,598.6 451.0,597.0" fill="none" stroke="#8ab0a0" stroke-width="0.6" />
<polyline points="461.0,571.8 462.7,572.1 464.2,572.9 465.3,574.2 465.9,575.9 465.9,577.6 465.3,579.2" fill="none" stroke="#8ab0a0" stroke-width="0.6" />
<polygon points="460.0,557.5 460.0,596.0 429.0,596.0 429.0,557.5" fill="none" stroke="#12302a" stroke-width="1.3" />
<polygon points="431.6,557.5 431.6,596.0 429.0,596.0 429.0,557.5" fill="#77777f" stroke="none" stroke-width="0" />
<polyline points="438.5,557.5 438.5,596.0" fill="none" stroke="#12302a" stroke-width="1.3" />
<polyline points="438.5,567.1 431.6,567.1" fill="none" stroke="#12302a" stroke-width="0.9" />
<polyline points="438.5,576.8 431.6,576.8" fill="none" stroke="#12302a" stroke-width="0.9" />
<polyline points="438.5,586.4 431.6,586.4" fill="none" stroke="#12302a" stroke-width="0.9" />
<circle cx="434.2" cy="562.3" r="1.25" fill="none" stroke="#12302a" stroke-width="0.9"/>
<circle cx="434.2" cy="571.9" r="1.25" fill="none" stroke="#12302a" stroke-width="0.9"/>
<circle cx="434.2" cy="581.6" r="1.25" fill="none" stroke="#12302a" stroke-width="0.9"/>
<circle cx="434.2" cy="591.2" r="1.25" fill="none" stroke="#12302a" stroke-width="0.9"/>
<polyline points="458.0,576.8 438.5,576.8" fill="none" stroke="#1a1a26" stroke-width="2.8" />
<polyline points="447.0,576.8 447.0,596.0" fill="none" stroke="#12302a" stroke-width="1.0" />
<polyline points="443.9,557.5 443.9,576.8" fill="none" stroke="#12302a" stroke-width="1.0" />
<polyline points="456.8,566.0 456.8,575.6" fill="none" stroke="#1a1a24" stroke-width="2.6" />
<polyline points="458.2,578.7 458.2,588.3" fill="none" stroke="#1a1a24" stroke-width="2.2" />
<polygon points="453.0,553.5 453.0,557.5 445.0,557.5 445.0,553.5" fill="#2a2a36" stroke="#12302a" stroke-width="1.1" />
<rect x="437.0" y="557.2" width="3.0" height="3.0" fill="#0a0a14"/>
<rect x="437.0" y="593.3" width="3.0" height="3.0" fill="#0a0a14"/>
<rect x="425.9" y="575.5" width="2.6" height="2.6" fill="#101030"/>
<polyline points="581.5,556.5 581.2,554.9 580.5,553.5 579.4,552.4 577.9,551.7 576.4,551.5 574.8,551.8" fill="none" stroke="#8aa0b8" stroke-width="0.6" />
<polyline points="574.8,601.2 576.4,601.5 577.9,601.3 579.4,600.6 580.5,599.5 581.2,598.1 581.5,596.5" fill="none" stroke="#8aa0b8" stroke-width="0.6" />
<polyline points="571.5,571.5 569.8,571.8 568.3,572.7 567.2,574.0 566.6,575.6 566.6,577.4 567.2,579.0" fill="none" stroke="#8aa0b8" stroke-width="0.6" />
<polygon points="572.5,557.5 572.5,595.5 602.5,595.5 602.5,557.5" fill="none" stroke="#14283c" stroke-width="1.3" />
<polygon points="599.9,557.5 599.9,595.5 602.5,595.5 602.5,557.5" fill="#77777f" stroke="none" stroke-width="0" />
<polyline points="593.0,557.5 593.0,595.5" fill="none" stroke="#14283c" stroke-width="1.3" />
<polyline points="593.0,567.0 599.9,567.0" fill="none" stroke="#14283c" stroke-width="0.9" />
<polyline points="593.0,576.5 599.9,576.5" fill="none" stroke="#14283c" stroke-width="0.9" />
<polyline points="593.0,586.0 599.9,586.0" fill="none" stroke="#14283c" stroke-width="0.9" />
<circle cx="597.3" cy="562.2" r="1.25" fill="none" stroke="#14283c" stroke-width="0.9"/>
<circle cx="597.3" cy="571.8" r="1.25" fill="none" stroke="#14283c" stroke-width="0.9"/>
<circle cx="597.3" cy="581.2" r="1.25" fill="none" stroke="#14283c" stroke-width="0.9"/>
<circle cx="597.3" cy="590.8" r="1.25" fill="none" stroke="#14283c" stroke-width="0.9"/>
<polyline points="574.5,576.5 593.0,576.5" fill="none" stroke="#1a1a26" stroke-width="2.8" />
<polyline points="585.1,576.5 585.1,595.5" fill="none" stroke="#14283c" stroke-width="1.0" />
<polyline points="588.1,557.5 588.1,576.5" fill="none" stroke="#14283c" stroke-width="1.0" />
<polyline points="575.7,565.9 575.7,575.4" fill="none" stroke="#1a1a24" stroke-width="2.6" />
<polyline points="574.3,578.4 574.3,587.9" fill="none" stroke="#1a1a24" stroke-width="2.2" />
<polygon points="579.5,553.5 579.5,557.5 587.5,557.5 587.5,553.5" fill="#2a2a36" stroke="#14283c" stroke-width="1.1" />
<rect x="591.5" y="557.2" width="3.0" height="3.0" fill="#0a0a14"/>
<rect x="591.5" y="592.8" width="3.0" height="3.0" fill="#0a0a14"/>
<rect x="603.0" y="575.2" width="2.6" height="2.6" fill="#101030"/>
<polyline points="820.0,556.5 820.3,554.9 821.0,553.5 822.1,552.4 823.6,551.7 825.1,551.5 826.7,551.8" fill="none" stroke="#8aa0b8" stroke-width="0.6" />
<polyline points="826.7,601.7 825.1,602.0 823.6,601.8 822.1,601.1 821.0,600.0 820.3,598.6 820.0,597.0" fill="none" stroke="#8aa0b8" stroke-width="0.6" />
<polyline points="830.0,571.8 831.7,572.1 833.2,572.9 834.3,574.2 834.9,575.9 834.9,577.6 834.3,579.2" fill="none" stroke="#8aa0b8" stroke-width="0.6" />
<polygon points="829.0,557.5 829.0,596.0 796.0,596.0 796.0,557.5" fill="none" stroke="#14283c" stroke-width="1.3" />
<polygon points="798.6,557.5 798.6,596.0 796.0,596.0 796.0,557.5" fill="#77777f" stroke="none" stroke-width="0" />
<polyline points="805.5,557.5 805.5,596.0" fill="none" stroke="#14283c" stroke-width="1.3" />
<polyline points="805.5,567.1 798.6,567.1" fill="none" stroke="#14283c" stroke-width="0.9" />
<polyline points="805.5,576.8 798.6,576.8" fill="none" stroke="#14283c" stroke-width="0.9" />
<polyline points="805.5,586.4 798.6,586.4" fill="none" stroke="#14283c" stroke-width="0.9" />
<circle cx="801.2" cy="562.3" r="1.25" fill="none" stroke="#14283c" stroke-width="0.9"/>
<circle cx="801.2" cy="571.9" r="1.25" fill="none" stroke="#14283c" stroke-width="0.9"/>
<circle cx="801.2" cy="581.6" r="1.25" fill="none" stroke="#14283c" stroke-width="0.9"/>
<circle cx="801.2" cy="591.2" r="1.25" fill="none" stroke="#14283c" stroke-width="0.9"/>
<polyline points="827.0,576.8 805.5,576.8" fill="none" stroke="#1a1a26" stroke-width="2.8" />
<polyline points="815.1,576.8 815.1,596.0" fill="none" stroke="#14283c" stroke-width="1.0" />
<polyline points="811.8,557.5 811.8,576.8" fill="none" stroke="#14283c" stroke-width="1.0" />
<polyline points="825.8,566.0 825.8,575.6" fill="none" stroke="#1a1a24" stroke-width="2.6" />
<polyline points="827.2,578.7 827.2,588.3" fill="none" stroke="#1a1a24" stroke-width="2.2" />
<polygon points="822.0,553.5 822.0,557.5 814.0,557.5 814.0,553.5" fill="#2a2a36" stroke="#14283c" stroke-width="1.1" />
<rect x="804.0" y="557.2" width="3.0" height="3.0" fill="#0a0a14"/>
<rect x="804.0" y="593.3" width="3.0" height="3.0" fill="#0a0a14"/>
<rect x="792.9" y="575.5" width="2.6" height="2.6" fill="#101030"/>
<polyline points="661.5,527.0 659.9,527.3 658.5,528.0 657.4,529.1 656.7,530.6 656.5,532.1 656.8,533.7" fill="none" stroke="#8aa0b8" stroke-width="0.6" />
<polyline points="709.2,533.7 709.5,532.1 709.3,530.6 708.6,529.1 707.5,528.0 706.1,527.3 704.5,527.0" fill="none" stroke="#8aa0b8" stroke-width="0.6" />
<polyline points="678.0,537.0 678.3,538.7 679.2,540.2 680.5,541.3 682.1,541.9 683.9,541.9 685.5,541.3" fill="none" stroke="#8aa0b8" stroke-width="0.6" />
<polygon points="662.5,536.0 703.5,536.0 703.5,504.0 662.5,504.0" fill="none" stroke="#14283c" stroke-width="1.3" />
<polygon points="662.5,506.6 703.5,506.6 703.5,504.0 662.5,504.0" fill="#77777f" stroke="none" stroke-width="0" />
<polyline points="662.5,513.5 703.5,513.5" fill="none" stroke="#14283c" stroke-width="1.3" />
<polyline points="672.8,513.5 672.8,506.6" fill="none" stroke="#14283c" stroke-width="0.9" />
<polyline points="683.0,513.5 683.0,506.6" fill="none" stroke="#14283c" stroke-width="0.9" />
<polyline points="693.2,513.5 693.2,506.6" fill="none" stroke="#14283c" stroke-width="0.9" />
<circle cx="667.6" cy="509.2" r="1.25" fill="none" stroke="#14283c" stroke-width="0.9"/>
<circle cx="677.9" cy="509.2" r="1.25" fill="none" stroke="#14283c" stroke-width="0.9"/>
<circle cx="688.1" cy="509.2" r="1.25" fill="none" stroke="#14283c" stroke-width="0.9"/>
<circle cx="698.4" cy="509.2" r="1.25" fill="none" stroke="#14283c" stroke-width="0.9"/>
<polyline points="683.0,534.0 683.0,513.5" fill="none" stroke="#1a1a26" stroke-width="2.8" />
<polyline points="683.0,522.6 703.5,522.6" fill="none" stroke="#14283c" stroke-width="1.0" />
<polyline points="662.5,519.4 683.0,519.4" fill="none" stroke="#14283c" stroke-width="1.0" />
<polyline points="671.5,532.8 681.8,532.8" fill="none" stroke="#1a1a24" stroke-width="2.6" />
<polyline points="685.0,534.2 695.3,534.2" fill="none" stroke="#1a1a24" stroke-width="2.2" />
<polygon points="658.5,529.0 662.5,529.0 662.5,521.0 658.5,521.0" fill="#2a2a36" stroke="#14283c" stroke-width="1.1" />
<rect x="662.2" y="512.0" width="3.0" height="3.0" fill="#0a0a14"/>
<rect x="700.8" y="512.0" width="3.0" height="3.0" fill="#0a0a14"/>
<rect x="681.7" y="500.9" width="2.6" height="2.6" fill="#101030"/>
<polygon points="211.7,561.5 230.0,561.5 230.0,591.4 211.7,591.4" fill="none" stroke="#12302a" stroke-width="1.0" />
<polygon points="230.0,556.8 246.4,556.8 246.4,595.5 230.0,595.5" fill="none" stroke="#12302a" stroke-width="1.1" />
<polygon points="237.6,559.0 240.5,559.0 240.5,593.0 237.6,593.0" fill="#6f7f78" stroke="none" stroke-width="0" />
<polygon points="240.5,561.5 254.7,561.5 254.7,576.0 240.5,576.0" fill="none" stroke="#12302a" stroke-width="1.0" />
<polyline points="240.5,568.5 254.7,568.5" fill="none" stroke="#12302a" stroke-width="0.9" />
<path d="M237.4 563.6a2 2.4 0 0 0 0 4.8" fill="none" stroke="#12302a" stroke-width="1"/>
<path d="M237.4 571.6a2 2.4 0 0 0 0 4.8" fill="none" stroke="#12302a" stroke-width="1"/>
<path d="M237.4 579.6a2 2.4 0 0 0 0 4.8" fill="none" stroke="#12302a" stroke-width="1"/>
<path d="M237.4 587.6a2 2.4 0 0 0 0 4.8" fill="none" stroke="#12302a" stroke-width="1"/>
<ellipse cx="243.6" cy="566.0" rx="1.1" ry="1.6" fill="none" stroke="#12302a" stroke-width="0.9"/>
<ellipse cx="243.6" cy="572.5" rx="1.1" ry="1.6" fill="none" stroke="#12302a" stroke-width="0.9"/>
<polyline points="211.7,576.7 268.0,576.7" fill="none" stroke="#12302a" stroke-width="1.3" />
<polygon points="207.3,564.5 211.7,564.5 211.7,580.5 207.3,580.5" fill="#3a4a44" stroke="#12302a" stroke-width="1.0" />
<polyline points="208.7,568.0 208.7,577.0" fill="none" stroke="#cfd8d4" stroke-width="1.0" />
<polyline points="216.5,569.0 216.5,574.5" fill="none" stroke="#12302a" stroke-width="1.8" />
<polyline points="216.5,581.0 216.5,586.0" fill="none" stroke="#12302a" stroke-width="1.8" />
<rect x="208.1" y="593.1" width="2.8" height="2.8" fill="#101030"/>
<rect x="244.3" y="557.1" width="2.4" height="2.4" fill="#101030"/>
<rect x="244.3" y="592.8" width="2.4" height="2.4" fill="#101030"/>
<polyline points="217.0,556.0 217.4,554.1 218.5,552.5 220.1,551.4 222.0,551.0 223.9,551.4 225.5,552.5 226.6,554.1 227.0,556.0" fill="none" stroke="#86b09c" stroke-width="0.6" />
<polyline points="231.0,553.0 231.5,550.7 232.8,548.8 234.7,547.5 237.0,547.0 239.3,547.5 241.2,548.8 242.5,550.7 243.0,553.0" fill="none" stroke="#86b09c" stroke-width="0.6" />
<polyline points="245.0,557.0 245.4,555.1 246.5,553.5 248.1,552.4 250.0,552.0 251.9,552.4 253.5,553.5 254.6,555.1 255.0,557.0" fill="none" stroke="#86b09c" stroke-width="0.6" />
<polyline points="227.0,597.0 226.6,598.9 225.5,600.5 223.9,601.6 222.0,602.0 220.1,601.6 218.5,600.5 217.4,598.9 217.0,597.0" fill="none" stroke="#86b09c" stroke-width="0.6" />
<polyline points="243.0,600.0 242.5,602.3 241.2,604.2 239.3,605.5 237.0,606.0 234.7,605.5 232.8,604.2 231.5,602.3 231.0,600.0" fill="none" stroke="#86b09c" stroke-width="0.6" />
<polygon points="267.8,557.2 413.6,557.2 413.6,596.4 267.8,596.4" fill="#a8a8a8" stroke="none" stroke-width="0" />
<polygon points="303.1,557.6 328.1,557.6 328.1,596.0 303.1,596.0" fill="#ababab" stroke="#7c7c7c" stroke-width="0.7" stroke-dasharray="2 1.2"/>
<polygon points="267.8,557.2 303.1,557.2 303.1,596.4 267.8,596.4" fill="#0c0c0c" stroke="none" stroke-width="0" />
<polygon points="269.2,560.3 281.1,560.3 281.1,593.3 269.2,593.3" fill="#a8a8a8" stroke="none" stroke-width="0" />
<polygon points="284.8,559.9 300.8,559.9 300.8,570.2 284.8,570.2" fill="#b4b4b4" stroke="none" stroke-width="0" />
<polyline points="284.8,559.9 300.8,570.2" fill="none" stroke="#2a2a2a" stroke-width="0.8" />
<polyline points="300.8,559.9 284.8,570.2" fill="none" stroke="#2a2a2a" stroke-width="0.8" />
<polygon points="284.8,571.7 300.8,571.7 300.8,581.9 284.8,581.9" fill="#b4b4b4" stroke="none" stroke-width="0" />
<polyline points="284.8,571.7 300.8,581.9" fill="none" stroke="#2a2a2a" stroke-width="0.8" />
<polyline points="300.8,571.7 284.8,581.9" fill="none" stroke="#2a2a2a" stroke-width="0.8" />
<polygon points="284.8,583.4 300.8,583.4 300.8,593.7 284.8,593.7" fill="#b4b4b4" stroke="none" stroke-width="0" />
<polyline points="284.8,583.4 300.8,593.7" fill="none" stroke="#2a2a2a" stroke-width="0.8" />
<polyline points="300.8,583.4 284.8,593.7" fill="none" stroke="#2a2a2a" stroke-width="0.8" />
<polygon points="328.1,557.2 413.6,557.2 413.6,560.3 328.1,560.3" fill="#0c0c0c" stroke="none" stroke-width="0" />
<polygon points="328.1,593.3 413.6,593.3 413.6,596.4 328.1,596.4" fill="#0c0c0c" stroke="none" stroke-width="0" />
<polygon points="328.1,557.2 329.6,557.2 329.6,596.4 328.1,596.4" fill="#0c0c0c" stroke="none" stroke-width="0" />
<polygon points="412.0,557.2 413.6,557.2 413.6,596.4 412.0,596.4" fill="#0c0c0c" stroke="none" stroke-width="0" />
<polygon points="329.3,569.6 346.4,569.6 346.4,593.4 329.3,593.4" fill="#0c0c0c" stroke="none" stroke-width="0" />
<polygon points="330.8,571.6 344.6,571.6 344.6,581.0 330.8,581.0" fill="#a8a8a8" stroke="none" stroke-width="0" />
<polygon points="330.8,583.4 337.0,583.4 337.0,591.8 330.8,591.8" fill="#a8a8a8" stroke="none" stroke-width="0" />
<polygon points="338.6,583.4 344.6,583.4 344.6,591.8 338.6,591.8" fill="#a8a8a8" stroke="none" stroke-width="0" />
<polyline points="363.6,560.3 363.6,593.3" fill="none" stroke="#1e1e1e" stroke-width="0.95" />
<polyline points="366.4,560.3 366.4,593.3" fill="none" stroke="#1e1e1e" stroke-width="0.95" />
<polyline points="369.1,560.3 369.1,593.3" fill="none" stroke="#1e1e1e" stroke-width="0.95" />
<polyline points="371.9,560.3 371.9,593.3" fill="none" stroke="#1e1e1e" stroke-width="0.95" />
<polyline points="374.6,560.3 374.6,593.3" fill="none" stroke="#1e1e1e" stroke-width="0.95" />
<polyline points="377.4,560.3 377.4,593.3" fill="none" stroke="#1e1e1e" stroke-width="0.95" />
<polyline points="380.1,560.3 380.1,593.3" fill="none" stroke="#1e1e1e" stroke-width="0.95" />
<polyline points="361.6,576.8 381.9,576.8" fill="none" stroke="#0c0c0c" stroke-width="2.0" />
<polyline points="366.8,577.8 377.8,591.4" fill="none" stroke="#2a2a2a" stroke-width="0.7" />
<polygon points="397.1,557.2 401.0,557.2 401.0,596.4 397.1,596.4" fill="#0c0c0c" stroke="none" stroke-width="0" />
<polygon points="782.5,557.2 616.5,557.2 616.5,595.8 782.5,595.8" fill="#a8a8a8" stroke="none" stroke-width="0" />
<polygon points="747.2,557.6 722.2,557.6 722.2,595.4 747.2,595.4" fill="#ababab" stroke="#7c7c7c" stroke-width="0.7" stroke-dasharray="2 1.2"/>
<polygon points="782.5,557.2 747.2,557.2 747.2,595.8 782.5,595.8" fill="#0c0c0c" stroke="none" stroke-width="0" />
<polygon points="781.1,560.3 769.2,560.3 769.2,592.7 781.1,592.7" fill="#a8a8a8" stroke="none" stroke-width="0" />
<polygon points="765.5,559.9 749.5,559.9 749.5,570.0 765.5,570.0" fill="#b4b4b4" stroke="none" stroke-width="0" />
<polyline points="765.5,559.9 749.5,570.0" fill="none" stroke="#2a2a2a" stroke-width="0.8" />
<polyline points="749.5,559.9 765.5,570.0" fill="none" stroke="#2a2a2a" stroke-width="0.8" />
<polygon points="765.5,571.5 749.5,571.5 749.5,581.5 765.5,581.5" fill="#b4b4b4" stroke="none" stroke-width="0" />
<polyline points="765.5,571.5 749.5,581.5" fill="none" stroke="#2a2a2a" stroke-width="0.8" />
<polyline points="749.5,571.5 765.5,581.5" fill="none" stroke="#2a2a2a" stroke-width="0.8" />
<polygon points="765.5,583.0 749.5,583.0 749.5,593.1 765.5,593.1" fill="#b4b4b4" stroke="none" stroke-width="0" />
<polyline points="765.5,583.0 749.5,593.1" fill="none" stroke="#2a2a2a" stroke-width="0.8" />
<polyline points="749.5,583.0 765.5,593.1" fill="none" stroke="#2a2a2a" stroke-width="0.8" />
<polygon points="722.2,557.2 616.5,557.2 616.5,560.3 722.2,560.3" fill="#0c0c0c" stroke="none" stroke-width="0" />
<polygon points="722.2,592.7 616.5,592.7 616.5,595.8 722.2,595.8" fill="#0c0c0c" stroke="none" stroke-width="0" />
<polygon points="722.2,557.2 720.7,557.2 720.7,595.8 722.2,595.8" fill="#0c0c0c" stroke="none" stroke-width="0" />
<polygon points="618.1,557.2 616.5,557.2 616.5,595.8 618.1,595.8" fill="#0c0c0c" stroke="none" stroke-width="0" />
<polygon points="721.0,583.4 703.9,583.4 703.9,560.2 721.0,560.2" fill="#0c0c0c" stroke="none" stroke-width="0" />
<polygon points="719.5,581.4 705.7,581.4 705.7,572.0 719.5,572.0" fill="#a8a8a8" stroke="none" stroke-width="0" />
<polygon points="719.5,569.6 713.3,569.6 713.3,561.8 719.5,561.8" fill="#a8a8a8" stroke="none" stroke-width="0" />
<polygon points="711.7,569.6 705.7,569.6 705.7,561.8 711.7,561.8" fill="#a8a8a8" stroke="none" stroke-width="0" />
<polyline points="686.7,560.3 686.7,592.7" fill="none" stroke="#1e1e1e" stroke-width="0.95" />
<polyline points="684.0,560.3 684.0,592.7" fill="none" stroke="#1e1e1e" stroke-width="0.95" />
<polyline points="681.2,560.3 681.2,592.7" fill="none" stroke="#1e1e1e" stroke-width="0.95" />
<polyline points="678.5,560.3 678.5,592.7" fill="none" stroke="#1e1e1e" stroke-width="0.95" />
<polyline points="675.7,560.3 675.7,592.7" fill="none" stroke="#1e1e1e" stroke-width="0.95" />
<polyline points="673.0,560.3 673.0,592.7" fill="none" stroke="#1e1e1e" stroke-width="0.95" />
<polyline points="670.2,560.3 670.2,592.7" fill="none" stroke="#1e1e1e" stroke-width="0.95" />
<polyline points="667.5,560.3 667.5,592.7" fill="none" stroke="#1e1e1e" stroke-width="0.95" />
<polyline points="664.7,560.3 664.7,592.7" fill="none" stroke="#1e1e1e" stroke-width="0.95" />
<polyline points="662.0,560.3 662.0,592.7" fill="none" stroke="#1e1e1e" stroke-width="0.95" />
<polyline points="659.2,560.3 659.2,592.7" fill="none" stroke="#1e1e1e" stroke-width="0.95" />
<polyline points="656.5,560.3 656.5,592.7" fill="none" stroke="#1e1e1e" stroke-width="0.95" />
<polyline points="653.7,560.3 653.7,592.7" fill="none" stroke="#1e1e1e" stroke-width="0.95" />
<polyline points="688.7,576.5 651.9,576.5" fill="none" stroke="#0c0c0c" stroke-width="2.0" />
<polyline points="683.5,577.5 672.5,590.8" fill="none" stroke="#2a2a2a" stroke-width="0.7" />
<polyline points="663.5,575.5 673.5,562.2" fill="none" stroke="#2a2a2a" stroke-width="0.7" />
<polygon points="633.0,557.2 629.1,557.2 629.1,595.8 633.0,595.8" fill="#0c0c0c" stroke="none" stroke-width="0" />
<polygon points="616.5,547.0 662.5,547.0 662.5,558.5 616.5,558.5" fill="#a8a8a8" stroke="#0c0c0c" stroke-width="1.8" />
<polygon points="664.0,547.0 702.5,547.0 702.5,558.5 664.0,558.5" fill="#a8a8a8" stroke="#0c0c0c" stroke-width="1.8" />
<polygon points="373.2,182.5 496.1,109.4 515.2,141.6 392.4,214.7" fill="#a8a8a8" stroke="none" stroke-width="0" />
<polygon points="403.7,164.8 425.2,152.0 444.0,183.5 422.5,196.3" fill="#ababab" stroke="#7c7c7c" stroke-width="0.7" stroke-dasharray="2 1.2"/>
<polygon points="373.2,182.5 403.5,164.4 422.7,196.6 392.4,214.7" fill="#0c0c0c" stroke="none" stroke-width="0" />
<polygon points="376.0,184.4 386.2,178.3 402.2,205.2 392.0,211.3" fill="#a8a8a8" stroke="none" stroke-width="0" />
<polygon points="389.2,176.1 402.9,167.9 407.9,176.3 394.1,184.4" fill="#b4b4b4" stroke="none" stroke-width="0" />
<polyline points="389.2,176.1 407.9,176.3" fill="none" stroke="#2a2a2a" stroke-width="0.8" />
<polyline points="402.9,167.9 394.1,184.4" fill="none" stroke="#2a2a2a" stroke-width="0.8" />
<polygon points="394.9,185.7 408.6,177.5 413.6,185.9 399.9,194.1" fill="#b4b4b4" stroke="none" stroke-width="0" />
<polyline points="394.9,185.7 413.6,185.9" fill="none" stroke="#2a2a2a" stroke-width="0.8" />
<polyline points="408.6,177.5 399.9,194.1" fill="none" stroke="#2a2a2a" stroke-width="0.8" />
<polygon points="400.6,195.4 414.4,187.2 419.3,195.5 405.6,203.7" fill="#b4b4b4" stroke="none" stroke-width="0" />
<polyline points="400.6,195.4 419.3,195.5" fill="none" stroke="#2a2a2a" stroke-width="0.8" />
<polyline points="414.4,187.2 405.6,203.7" fill="none" stroke="#2a2a2a" stroke-width="0.8" />
<polygon points="425.0,151.6 496.1,109.4 497.7,112.0 426.6,154.3" fill="#0c0c0c" stroke="none" stroke-width="0" />
<polygon points="442.6,181.2 513.7,138.9 515.2,141.6 444.2,183.9" fill="#0c0c0c" stroke="none" stroke-width="0" />
<polygon points="425.0,151.6 426.3,150.9 445.5,183.1 444.2,183.9" fill="#0c0c0c" stroke="none" stroke-width="0" />
<polygon points="494.7,110.2 496.1,109.4 515.2,141.6 513.9,142.4" fill="#0c0c0c" stroke="none" stroke-width="0" />
<polygon points="432.4,161.7 447.1,152.9 458.4,171.9 443.7,180.7" fill="#0c0c0c" stroke="none" stroke-width="0" />
<polygon points="434.7,162.6 446.5,155.6 451.3,163.7 439.5,170.7" fill="#a8a8a8" stroke="none" stroke-width="0" />
<polygon points="440.7,172.8 446.0,169.6 449.5,175.4 444.1,178.5" fill="#a8a8a8" stroke="none" stroke-width="0" />
<polygon points="447.4,168.8 452.6,165.7 456.0,171.5 450.8,174.5" fill="#a8a8a8" stroke="none" stroke-width="0" />
<polyline points="457.1,136.2 473.1,163.1" fill="none" stroke="#1e1e1e" stroke-width="0.95" />
<polyline points="458.3,135.5 474.3,162.3" fill="none" stroke="#1e1e1e" stroke-width="0.9" />
<polyline points="459.5,134.8 475.5,161.6" fill="none" stroke="#1e1e1e" stroke-width="0.95" />
<polyline points="460.6,134.0 476.6,160.9" fill="none" stroke="#1e1e1e" stroke-width="0.9" />
<polyline points="461.8,133.3 477.8,160.2" fill="none" stroke="#1e1e1e" stroke-width="0.95" />
<polyline points="463.0,132.6 479.0,159.5" fill="none" stroke="#1e1e1e" stroke-width="0.9" />
<polyline points="464.2,131.9 480.2,158.8" fill="none" stroke="#1e1e1e" stroke-width="0.95" />
<polyline points="465.4,131.2 481.4,158.1" fill="none" stroke="#1e1e1e" stroke-width="0.9" />
<polyline points="466.5,130.5 482.5,157.4" fill="none" stroke="#1e1e1e" stroke-width="0.95" />
<polyline points="467.7,129.8 483.7,156.7" fill="none" stroke="#1e1e1e" stroke-width="0.9" />
<polyline points="468.9,129.1 484.9,156.0" fill="none" stroke="#1e1e1e" stroke-width="0.95" />
<polyline points="470.1,128.4 486.1,155.3" fill="none" stroke="#1e1e1e" stroke-width="0.9" />
<polyline points="471.3,127.7 487.3,154.6" fill="none" stroke="#1e1e1e" stroke-width="0.95" />
<polyline points="463.4,150.6 480.8,140.2" fill="none" stroke="#0c0c0c" stroke-width="2.0" />
<polyline points="468.4,148.8 484.3,154.2" fill="none" stroke="#2a2a2a" stroke-width="0.7" />
<polygon points="481.9,117.8 485.2,115.8 504.4,148.0 501.1,150.0" fill="#0c0c0c" stroke="none" stroke-width="0" />
<polygon points="461.5,174.1 502.8,149.6 507.9,158.2 466.6,182.7" fill="#a8a8a8" stroke="#0c0c0c" stroke-width="1.8" />
<polygon points="251.2,352.1 295.9,371.0 291.4,381.6 256.4,366.8 251.5,378.3 241.8,374.2" fill="#a8a8a8" stroke="#0c0c0c" stroke-width="1.6" />
<polyline points="264.6,357.7 260.1,368.3" fill="none" stroke="#0c0c0c" stroke-width="1.2" />
<polyline points="270.1,360.1 265.6,370.7" fill="none" stroke="#0c0c0c" stroke-width="1.2" />
<polygon points="256.8,367.0 244.9,395.0 299.7,418.3 311.6,390.2" fill="#a8a8a8" stroke="#0c0c0c" stroke-width="2.6" />
<polyline points="299.6,385.1 287.7,413.2" fill="none" stroke="#0c0c0c" stroke-width="2.4" />
<polyline points="295.7,394.3 307.7,399.4" fill="none" stroke="#0c0c0c" stroke-width="1.2" />
<polyline points="291.8,403.5 303.8,408.6" fill="none" stroke="#0c0c0c" stroke-width="1.2" />
<polyline points="270.1,378.0 261.9,397.3" fill="none" stroke="#0c0c0c" stroke-width="1.1" />
<polyline points="271.7,378.7 263.5,398.0" fill="none" stroke="#0c0c0c" stroke-width="1.1" />
<polyline points="273.4,379.4 265.2,398.7" fill="none" stroke="#0c0c0c" stroke-width="1.1" />
<polyline points="275.1,380.1 266.8,399.4" fill="none" stroke="#0c0c0c" stroke-width="1.1" />
<polyline points="276.7,380.8 268.5,400.1" fill="none" stroke="#0c0c0c" stroke-width="1.1" />
<polyline points="278.4,381.5 270.2,400.9" fill="none" stroke="#0c0c0c" stroke-width="1.1" />
<polyline points="280.0,382.2 271.8,401.6" fill="none" stroke="#0c0c0c" stroke-width="1.1" />
<polyline points="281.7,382.9 273.5,402.3" fill="none" stroke="#0c0c0c" stroke-width="1.1" />
<polyline points="283.3,383.6 275.1,403.0" fill="none" stroke="#0c0c0c" stroke-width="1.1" />
<polyline points="285.0,384.3 276.8,403.7" fill="none" stroke="#0c0c0c" stroke-width="1.1" />
<polyline points="286.7,385.0 278.4,404.4" fill="none" stroke="#0c0c0c" stroke-width="1.1" />
<polyline points="288.3,385.7 280.1,405.1" fill="none" stroke="#0c0c0c" stroke-width="1.1" />
<polyline points="290.0,386.4 281.8,405.8" fill="none" stroke="#0c0c0c" stroke-width="1.1" />
<polyline points="269.9,378.5 290.1,387.1" fill="none" stroke="#141414" stroke-width="0.6" />
<polyline points="268.9,380.8 289.2,389.4" fill="none" stroke="#141414" stroke-width="0.6" />
<polyline points="267.9,383.1 288.2,391.7" fill="none" stroke="#141414" stroke-width="0.6" />
<polyline points="267.0,385.4 287.2,394.0" fill="none" stroke="#141414" stroke-width="0.6" />
<polyline points="266.0,387.7 286.2,396.3" fill="none" stroke="#141414" stroke-width="0.6" />
<polyline points="265.0,390.0 285.3,398.6" fill="none" stroke="#141414" stroke-width="0.6" />
<polyline points="264.0,392.3 284.3,400.9" fill="none" stroke="#141414" stroke-width="0.6" />
<polyline points="263.1,394.6 283.3,403.2" fill="none" stroke="#141414" stroke-width="0.6" />
<polyline points="262.1,396.9 282.3,405.5" fill="none" stroke="#141414" stroke-width="0.6" />
<polyline points="259.7,384.5 287.3,396.2" fill="none" stroke="#0c0c0c" stroke-width="1.2" />
<text x="551.8" y="87.3" font-size="22.5" font-weight="bold" fill="#0e0e2a" text-anchor="start" textLength="47.5" lengthAdjust="spacingAndGlyphs" >Top 8</text>
<text x="551.8" y="105.7" font-size="15.0" font-weight="normal" fill="#2a2a3a" text-anchor="start" textLength="57.0" lengthAdjust="spacingAndGlyphs" >467,52 m²</text>
<text x="286.5" y="285.3" font-size="22.5" font-weight="bold" fill="#0e0e2a" text-anchor="start" textLength="47.5" lengthAdjust="spacingAndGlyphs" >Top 7</text>
<text x="286.5" y="303.7" font-size="15.0" font-weight="normal" fill="#2a2a3a" text-anchor="start" textLength="57.0" lengthAdjust="spacingAndGlyphs" >764,16 m²</text>
<text x="521.0" y="268.7" font-size="22.5" font-weight="bold" fill="#0e0e2a" text-anchor="start" textLength="47.5" lengthAdjust="spacingAndGlyphs" >Top 9</text>
<text x="521.0" y="287.1" font-size="15.0" font-weight="normal" fill="#2a2a3a" text-anchor="start" textLength="57.0" lengthAdjust="spacingAndGlyphs" >543,01 m²</text>
<text x="617.5" y="417.5" font-size="22.5" font-weight="bold" fill="#0e0e2a" text-anchor="start" textLength="47.5" lengthAdjust="spacingAndGlyphs" >Top 3</text>
<text x="617.5" y="435.9" font-size="15.0" font-weight="normal" fill="#2a2a3a" text-anchor="start" textLength="57.0" lengthAdjust="spacingAndGlyphs" >630,39 m²</text>
<text x="222.3" y="458.7" font-size="22.5" font-weight="bold" fill="#0e0e2a" text-anchor="start" textLength="47.5" lengthAdjust="spacingAndGlyphs" >Top 6</text>
<text x="222.3" y="477.1" font-size="15.0" font-weight="normal" fill="#2a2a3a" text-anchor="start" textLength="57.0" lengthAdjust="spacingAndGlyphs" >554,21 m²</text>
<text x="138.5" y="582.0" font-size="22.5" font-weight="bold" fill="#0e0e2a" text-anchor="start" textLength="47.5" lengthAdjust="spacingAndGlyphs" >Top 5</text>
<text x="138.5" y="600.4" font-size="15.0" font-weight="normal" fill="#2a2a3a" text-anchor="start" textLength="57.0" lengthAdjust="spacingAndGlyphs" >463,34 m²</text>
<text x="464.3" y="569.5" font-size="22.5" font-weight="bold" fill="#0e0e2a" text-anchor="start" textLength="47.5" lengthAdjust="spacingAndGlyphs" >Top 4</text>
<text x="464.3" y="587.9" font-size="15.0" font-weight="normal" fill="#2a2a3a" text-anchor="start" textLength="57.0" lengthAdjust="spacingAndGlyphs" >591,17 m²</text>
<text x="533.5" y="569.5" font-size="22.5" font-weight="bold" fill="#0e0e2a" text-anchor="start" textLength="47.5" lengthAdjust="spacingAndGlyphs" >Top 2</text>
<text x="533.5" y="587.9" font-size="15.0" font-weight="normal" fill="#2a2a3a" text-anchor="start" textLength="57.0" lengthAdjust="spacingAndGlyphs" >447,72 m²</text>
<text x="833.5" y="583.7" font-size="22.5" font-weight="bold" fill="#0e0e2a" text-anchor="start" textLength="47.5" lengthAdjust="spacingAndGlyphs" >Top 1</text>
<text x="833.5" y="602.1" font-size="15.0" font-weight="normal" fill="#2a2a3a" text-anchor="start" textLength="57.0" lengthAdjust="spacingAndGlyphs" >476,13 m²</text>
<text x="253.8" y="83.3" font-size="27.8" font-weight="normal" fill="#0a0a0a" text-anchor="start" textLength="140.2" lengthAdjust="spacingAndGlyphs" >KERN NORD</text>
<text x="101.5" y="373.3" font-size="27.8" font-weight="normal" fill="#0a0a0a" text-anchor="start" textLength="86.5" lengthAdjust="spacingAndGlyphs" >KERN Z</text>
<text x="264.2" y="682.5" font-size="27.8" font-weight="normal" fill="#0a0a0a" text-anchor="start" textLength="139.5" lengthAdjust="spacingAndGlyphs" >KERN WEST</text>
<text x="613.3" y="682.5" font-size="27.8" font-weight="normal" fill="#0a0a0a" text-anchor="start" textLength="121.5" lengthAdjust="spacingAndGlyphs" >KERN SÜD</text>
<text x="881.0" y="724.6" font-size="27.8" font-weight="normal" fill="#0a0a0a" text-anchor="start" textLength="66.8" lengthAdjust="spacingAndGlyphs" >03 OG</text>
<rect x="763.6" y="89.0" width="199.1" height="277.9" fill="#fff" stroke="#0a0a0a" stroke-width="2.2"/>
<line x1="763.6" y1="114.6" x2="962.7" y2="114.6" stroke="#222" stroke-width="1"/>
<line x1="763.6" y1="139.8" x2="962.7" y2="139.8" stroke="#222" stroke-width="1"/>
<line x1="763.6" y1="165.2" x2="962.7" y2="165.2" stroke="#222" stroke-width="1"/>
<line x1="763.6" y1="190.4" x2="962.7" y2="190.4" stroke="#222" stroke-width="1"/>
<line x1="763.6" y1="215.5" x2="962.7" y2="215.5" stroke="#222" stroke-width="1"/>
<line x1="763.6" y1="240.6" x2="962.7" y2="240.6" stroke="#222" stroke-width="1"/>
<line x1="763.6" y1="265.9" x2="962.7" y2="265.9" stroke="#222" stroke-width="1"/>
<line x1="763.6" y1="291.3" x2="962.7" y2="291.3" stroke="#222" stroke-width="1"/>
<line x1="763.6" y1="316.6" x2="962.7" y2="316.6" stroke="#222" stroke-width="1"/>
<line x1="763.6" y1="341.6" x2="962.7" y2="341.6" stroke="#999" stroke-width="1"/>
<line x1="853.6" y1="89.0" x2="853.6" y2="341.6" stroke="#222" stroke-width="1"/>
<text x="808.6" y="107.6" font-size="16.0" font-weight="normal" fill="#1a1a1a" text-anchor="middle" textLength="21.3" lengthAdjust="spacingAndGlyphs" >Top</text>
<text x="908.5" y="107.6" font-size="16.0" font-weight="normal" fill="#1a1a1a" text-anchor="middle" textLength="37.8" lengthAdjust="spacingAndGlyphs" >Fläche</text>
<text x="768.4" y="133.5" font-size="16.0" font-weight="normal" fill="#1a1a1a" text-anchor="start" textLength="38.0" lengthAdjust="spacingAndGlyphs" >Top 31</text>
<text x="959.5" y="133.5" font-size="16.0" font-weight="normal" fill="#1a1a1a" text-anchor="end" textLength="57.0" lengthAdjust="spacingAndGlyphs" >476,13 m²</text>
<text x="768.4" y="158.7" font-size="16.0" font-weight="normal" fill="#1a1a1a" text-anchor="start" textLength="38.0" lengthAdjust="spacingAndGlyphs" >Top 32</text>
<text x="959.5" y="158.7" font-size="16.0" font-weight="normal" fill="#1a1a1a" text-anchor="end" textLength="57.0" lengthAdjust="spacingAndGlyphs" >447,72 m²</text>
<text x="768.4" y="183.9" font-size="16.0" font-weight="normal" fill="#1a1a1a" text-anchor="start" textLength="38.0" lengthAdjust="spacingAndGlyphs" >Top 33</text>
<text x="959.5" y="183.9" font-size="16.0" font-weight="normal" fill="#1a1a1a" text-anchor="end" textLength="57.0" lengthAdjust="spacingAndGlyphs" >630,39 m²</text>
<text x="768.4" y="209.1" font-size="16.0" font-weight="normal" fill="#1a1a1a" text-anchor="start" textLength="38.0" lengthAdjust="spacingAndGlyphs" >Top 34</text>
<text x="959.5" y="209.1" font-size="16.0" font-weight="normal" fill="#1a1a1a" text-anchor="end" textLength="57.0" lengthAdjust="spacingAndGlyphs" >591,17 m²</text>
<text x="768.4" y="234.3" font-size="16.0" font-weight="normal" fill="#1a1a1a" text-anchor="start" textLength="38.0" lengthAdjust="spacingAndGlyphs" >Top 35</text>
<text x="959.5" y="234.3" font-size="16.0" font-weight="normal" fill="#1a1a1a" text-anchor="end" textLength="57.0" lengthAdjust="spacingAndGlyphs" >463,34 m²</text>
<text x="768.4" y="259.5" font-size="16.0" font-weight="normal" fill="#1a1a1a" text-anchor="start" textLength="38.0" lengthAdjust="spacingAndGlyphs" >Top 36</text>
<text x="959.5" y="259.5" font-size="16.0" font-weight="normal" fill="#1a1a1a" text-anchor="end" textLength="57.0" lengthAdjust="spacingAndGlyphs" >554,21 m²</text>
<text x="768.4" y="284.7" font-size="16.0" font-weight="normal" fill="#1a1a1a" text-anchor="start" textLength="38.0" lengthAdjust="spacingAndGlyphs" >Top 37</text>
<text x="959.5" y="284.7" font-size="16.0" font-weight="normal" fill="#1a1a1a" text-anchor="end" textLength="57.0" lengthAdjust="spacingAndGlyphs" >764,16 m²</text>
<text x="768.4" y="309.9" font-size="16.0" font-weight="normal" fill="#1a1a1a" text-anchor="start" textLength="38.0" lengthAdjust="spacingAndGlyphs" >Top 38</text>
<text x="959.5" y="309.9" font-size="16.0" font-weight="normal" fill="#1a1a1a" text-anchor="end" textLength="57.0" lengthAdjust="spacingAndGlyphs" >467,52 m²</text>
<text x="768.4" y="335.1" font-size="16.0" font-weight="normal" fill="#1a1a1a" text-anchor="start" textLength="38.0" lengthAdjust="spacingAndGlyphs" >Top 39</text>
<text x="959.5" y="335.1" font-size="16.0" font-weight="normal" fill="#1a1a1a" text-anchor="end" textLength="57.0" lengthAdjust="spacingAndGlyphs" >543,01 m²</text>
<text x="768.0" y="359.9" font-size="16.0" font-weight="normal" fill="#1a1a1a" text-anchor="start" textLength="77.6" lengthAdjust="spacingAndGlyphs" >Gesamtfläche</text>
<text x="959.5" y="359.9" font-size="16.0" font-weight="normal" fill="#1a1a1a" text-anchor="end" textLength="64.3" lengthAdjust="spacingAndGlyphs" >4937,65 m²</text>
<polygon points="357.5,396.4 341.5,405.6 366.6,449.1 383.1,439.5" fill="none" stroke="#0c0c0c" stroke-width="3.3" />
<polyline points="359.3,434.9 374.9,427.1" fill="none" stroke="#0c0c0c" stroke-width="1.6" />
<g fill="#efefef" fill-opacity="0.5" stroke="none">
<rect x="322.6" y="313" width="18.5" height="72"/>
<path d="M363.7 385.5V313.3H382.3L415.5 352.8L436.4 313.3H455.4V385.5H436.4V343L417.5 374.5H411.5L382.3 342V385.5Z"/>
<path d="M479 384.6V313H497.5L518.5 353L590 313H609V384.6H590.3V334.5L517 374L497.5 342V384.6Z"/>
<path fill-rule="evenodd" d="M666.5 309.8a37.3 38.6 0 1 0 0.01 0ZM666.5 325.8a20.2 22.6 0 1 1 -0.01 0Z"/>
</g>
<g fill="none" stroke="#efefef" stroke-opacity="0.5" stroke-width="3" stroke-linecap="butt" stroke-linejoin="miter">
<path d="M355.5 420.8A17.2 17.2 0 1 0 355.5 447.2"/>
<ellipse cx="390.8" cy="434" rx="19" ry="17.4"/>
<path d="M424.6 452.5V416L453.9 452V415.5"/>
<path d="M471.6 417H501.8M486.7 417V452.5"/>
<path d="M521 452.5V417H538.5a10.3 10.3 0 0 1 0 20.6H521M539 437.6L550 452.5"/>
<path d="M571 452.5L588.8 417L606.7 452.5"/>
<path d="M646.5 420.8A17.2 17.2 0 1 0 646.5 447.2"/>
<path d="M671 417H702M686.5 417V452.5"/>
</g>
</svg>
</body></html>
